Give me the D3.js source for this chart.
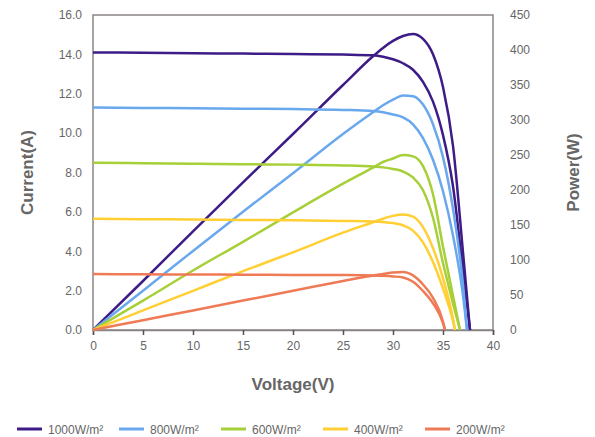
<!DOCTYPE html>
<html>
<head>
<meta charset="utf-8">
<style>
  body { margin: 0; background: #fff; }
  svg { font-family: "Liberation Sans", Arial, sans-serif; }
</style>
</head>
<body>
<svg id="chart"></svg>
<script src="https://d3js.org/d3.v7.min.js"></script>
<script>
  // irradiance levels, shown in the legend
  const levels = ['1000', '800', '600', '400', '200'];
  const colors = ['#3d1c87', '#6aa8ee', '#a6cf38', '#ffcf33', '#ef7a56'];

  // voltage points (V) for each level
  const volt1000 = [0, 5, 10, 15, 20, 25, 28, 29, 30, 31, 32, 33, 34, 35, 36, 37, 37.7];
  const volt800  = [0, 5, 10, 15, 20, 25, 28, 29, 30, 31, 32, 33, 34, 35, 36, 37, 37.4];
  const volt600  = [0, 5, 10, 15, 20, 25, 28, 29, 30, 31, 32, 33, 34, 35, 36, 36.7];
  const volt400  = [0, 5, 10, 15, 20, 25, 28, 29, 30, 31, 32, 33, 34, 35, 36, 36.2];
  const volt200  = [0, 5, 10, 15, 20, 25, 28, 29, 30, 31, 32, 33, 34, 35, 35.2];

  // current (A)
  const amp1000 = [14.1, 14.08, 14.06, 14.04, 14.02, 13.99, 13.95, 13.88, 13.75, 13.55, 13.22, 12.6, 11.6, 9.9, 7.3, 3.0, 0];
  const amp800  = [11.3, 11.28, 11.26, 11.24, 11.22, 11.18, 11.12, 11.06, 10.95, 10.8, 10.45, 9.75, 8.65, 7.05, 4.8, 1.75, 0];
  const amp600  = [8.5, 8.47, 8.45, 8.42, 8.4, 8.36, 8.3, 8.26, 8.18, 8.05, 7.75, 7.1, 5.7, 3.4, 1.35, 0];
  const amp400  = [5.65, 5.63, 5.61, 5.59, 5.57, 5.54, 5.51, 5.48, 5.43, 5.32, 5.05, 4.45, 3.45, 2.1, 0.45, 0];
  const amp200  = [2.84, 2.83, 2.82, 2.81, 2.8, 2.79, 2.77, 2.75, 2.72, 2.67, 2.45, 1.98, 1.35, 0.35, 0];

  // power (W)
  const watt1000 = [0, 70, 141, 211, 280, 350, 391, 403, 413, 420, 423, 416, 394, 347, 263, 111, 0];
  const watt800  = [0, 56, 113, 169, 224, 280, 311, 321, 329, 335, 334, 322, 294, 247, 173, 65, 0];
  const watt600  = [0, 42, 85, 126, 168, 209, 232, 240, 245, 250, 248, 234, 194, 119, 49, 0];
  const watt400  = [0, 28, 56, 84, 111, 139, 154, 159, 163, 165, 162, 147, 117, 74, 16, 0];
  const watt200  = [0, 14, 28, 42, 56, 70, 78, 80, 82, 83, 78, 65, 46, 12, 0];

  const voltTicks = [0, 5, 10, 15, 20, 25, 30, 35, 40];
  const ampTicks = [0, 2, 4, 6, 8, 10, 12, 14, 16];
  const wattTicks = [0, 50, 100, 150, 200, 250, 300, 350, 400, 450];

  const volts = [volt1000, volt800, volt600, volt400, volt200];
  const amps = [amp1000, amp800, amp600, amp400, amp200];
  const watts = [watt1000, watt800, watt600, watt400, watt200];

  const W = 595, H = 437;
  const plotL = 93, plotR = 493, plotT = 15, plotB = 330;
  const grey = '#666', axisGrey = '#8a8585';

  const svg = d3.select('#chart').attr('width', W).attr('height', H);

  const x = d3.scaleLinear().domain([0, 40]).range([plotL, plotR]);
  const yA = d3.scaleLinear().domain([0, 16]).range([plotB, plotT]);
  const yW = d3.scaleLinear().domain([0, 450]).range([plotB, plotT]);

  // frame
  svg.append('rect')
    .attr('x', plotL).attr('y', plotT)
    .attr('width', plotR - plotL).attr('height', plotB - plotT)
    .attr('fill', 'none').attr('stroke', axisGrey).attr('stroke-width', 1.5);

  // x axis
  const xAxis = svg.append('g')
    .attr('transform', `translate(0,${plotB})`)
    .call(d3.axisBottom(x).tickValues(voltTicks).tickSize(5).tickPadding(6));
  xAxis.select('.domain').attr('stroke', axisGrey).attr('stroke-width', 1.5);
  xAxis.selectAll('.tick line').attr('stroke', '#5a4f4f').attr('stroke-width', 1.5);
  xAxis.selectAll('text').attr('fill', grey).attr('font-size', 12);

  // left axis
  const yAxisL = svg.append('g')
    .attr('transform', `translate(${plotL},0)`)
    .call(d3.axisLeft(yA).tickValues(ampTicks).tickFormat(d3.format('.1f')).tickSize(0).tickPadding(11));
  yAxisL.select('.domain').remove();
  yAxisL.selectAll('text').attr('fill', grey).attr('font-size', 12);

  // right axis
  const yAxisR = svg.append('g')
    .attr('transform', `translate(${plotR},0)`)
    .call(d3.axisRight(yW).tickValues(wattTicks).tickSize(0).tickPadding(17));
  yAxisR.select('.domain').remove();
  yAxisR.selectAll('text').attr('fill', grey).attr('font-size', 12);

  // axis titles
  svg.append('text')
    .attr('x', (plotL + plotR) / 2).attr('y', 390)
    .attr('text-anchor', 'middle').attr('fill', grey)
    .attr('font-size', 17).attr('font-weight', 'bold')
    .text('Voltage(V)');
  svg.append('text')
    .attr('transform', `translate(33,${(plotT + plotB) / 2}) rotate(-90)`)
    .attr('text-anchor', 'middle').attr('fill', grey)
    .attr('font-size', 17).attr('font-weight', 'bold')
    .text('Current(A)');
  svg.append('text')
    .attr('transform', `translate(579,${(plotT + plotB) / 2}) rotate(-90)`)
    .attr('text-anchor', 'middle').attr('fill', grey)
    .attr('font-size', 17).attr('font-weight', 'bold')
    .text('Power(W)');

  const ampLine = d3.line().x(d => x(d[0])).y(d => yA(d[1])).curve(d3.curveMonotoneX);
  const wattLine = d3.line().x(d => x(d[0])).y(d => yW(d[1])).curve(d3.curveMonotoneX);

  levels.forEach((lv, i) => {
    const ptsA = volts[i].map((v, j) => [v, amps[i][j]]);
    const ptsW = volts[i].map((v, j) => [v, watts[i][j]]);
    svg.append('path').attr('d', ampLine(ptsA))
      .attr('fill', 'none').attr('stroke', colors[i]).attr('stroke-width', 2.5);
    svg.append('path').attr('d', wattLine(ptsW))
      .attr('fill', 'none').attr('stroke', colors[i]).attr('stroke-width', 2.5);
  });

  // legend
  const legend = svg.append('g').attr('transform', 'translate(17,429)');
  levels.forEach((lv, i) => {
    const g = legend.append('g').attr('transform', `translate(${i * 102},0)`);
    g.append('line').attr('x1', 0).attr('x2', 25).attr('y1', 0).attr('y2', 0)
      .attr('stroke', colors[i]).attr('stroke-width', 3);
    g.append('text').attr('x', 31).attr('y', 4.5)
      .attr('fill', grey).attr('font-size', 12)
      .text(lv + 'W/m²');
  });
</script>
</body>
</html>
